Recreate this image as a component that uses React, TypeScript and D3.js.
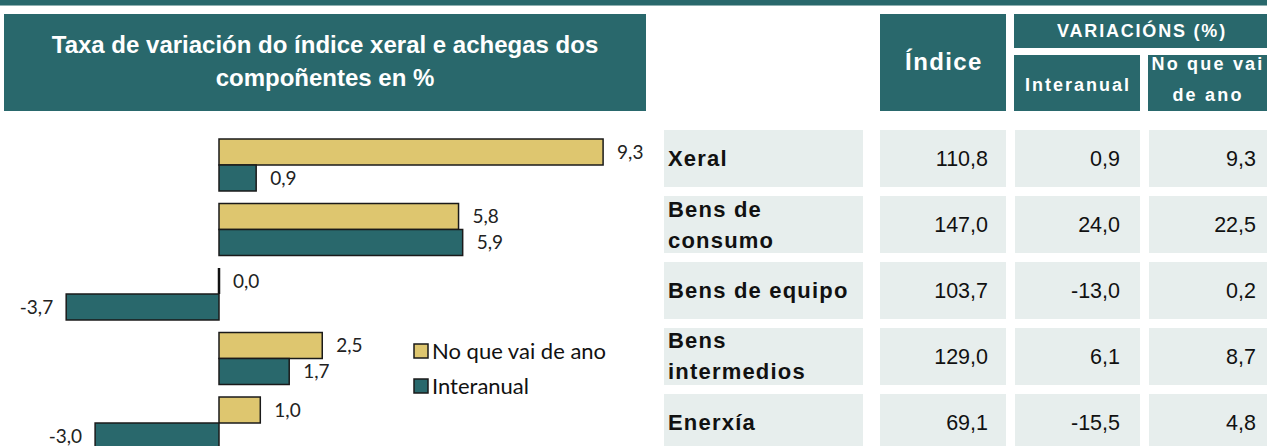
import React from "react";
import * as d3 from "d3";

const categories = ["Xeral", "Bens de consumo", "Bens de equipo", "Bens intermedios", "Enerxía"];
const categoryLines = [["Xeral"], ["Bens de", "consumo"], ["Bens de equipo"], ["Bens", "intermedios"], ["Enerxía"]];
const seriesNames = ["No que vai de ano", "Interanual"];
const chartNoQueVaiDeAno = [9.3, 5.8, 0.0, 2.5, 1.0];
const chartInteranual = [0.9, 5.9, -3.7, 1.7, -3.0];
const tableIndice = [110.8, 147.0, 103.7, 129.0, 69.1];
const tableInteranual = [0.9, 24.0, -13.0, 6.1, -15.5];
const tableNoQueVaiDeAno = [9.3, 22.5, 0.2, 8.7, 4.8];
const titleLines = ["Taxa de variación do índice xeral e achegas dos", "compoñentes en %"];

const TEAL = "#29686C";
const YELLOW = "#DEC66F";
const LIGHT = "#E7EEED";
const W = 1267;
const H = 446;

const locale = d3.formatLocale({ decimal: ",", thousands: ".", grouping: [3], currency: ["", "€"], minus: "-" });
const fmt = locale.format(".1f");

export default function App() {
  const x = d3.scaleLinear().domain([-5, 10]).range([12.5, 632]);
  const y = d3.scaleBand<string>().domain(categories).range([132.75, 455.25]).paddingInner(0.194).paddingOuter(0.097);
  const ySeries = d3.scaleBand<string>().domain(seriesNames).range([0, y.bandwidth()]);
  const color = d3.scaleOrdinal<string, string>().domain(seriesNames).range([YELLOW, TEAL]);
  const seriesValues = [chartNoQueVaiDeAno, chartInteranual];

  const rowY = d3.scaleBand<string>().domain(categories).range([130, 451]).paddingInner(0.136).paddingOuter(0);
  const labelFont = "'Liberation Sans', Arial, sans-serif";
  const dataFont = "Lato, 'Open Sans', sans-serif";

  const cols = [
    { x0: 880, x1: 1006, values: tableIndice, right: 988 },
    { x0: 1015, x1: 1140, values: tableInteranual, right: 1120 },
    { x0: 1149, x1: 1267, values: tableNoQueVaiDeAno, right: 1256 },
  ];

  const bars: React.ReactNode[] = [];
  seriesNames.forEach((s, si) => {
    categories.forEach((c, ci) => {
      const v = seriesValues[si][ci];
      const by = (y(c) as number) + (ySeries(s) as number);
      const bh = ySeries.bandwidth();
      const xa = x(Math.min(0, v));
      const xb = x(Math.max(0, v));
      const key = `${s}-${c}`;
      if (xb - xa < 0.5) {
        bars.push(<line key={key} x1={x(0)} x2={x(0)} y1={by} y2={by + bh} stroke="#111" strokeWidth={2.5} />);
      } else {
        bars.push(
          <rect key={key} x={xa} y={by} width={xb - xa} height={bh} fill={color(s)} stroke="#1a1a1a" strokeWidth={1.5} />
        );
      }
      const tx = v >= 0 ? xb + 14 : xa - 13;
      bars.push(
        <text key={key + "-l"} x={tx} y={by + bh / 2} dy="0.35em" textAnchor={v >= 0 ? "start" : "end"} fontFamily={dataFont} fontSize={19} fill="#222">
          {fmt(v)}
        </text>
      );
    });
  });

  return (
    <svg width={W} height={H} style={{ position: "absolute", left: 0, top: 0, overflow: "hidden", background: "#fff" }}>
      <rect x={0} y={0} width={W} height={5} fill={TEAL} />
      <rect x={0} y={5} width={W} height={1} fill="#8fb0b1" />
      {/* Left header */}
      <rect x={4} y={14} width={642} height={97} fill={TEAL} />
      {titleLines.map((t, i) => (
        <text key={t} x={325} y={53 + i * 33} textAnchor="middle" fontFamily={labelFont} fontWeight="bold" fontSize={24} fill="#fff">
          {t}
        </text>
      ))}
      {/* Right header */}
      <rect x={880} y={14} width={126} height={97} fill={TEAL} />
      <text x={944} y={70} textAnchor="middle" fontFamily={labelFont} fontWeight="bold" fontSize={24} letterSpacing={1.4} fill="#fff">
        Índice
      </text>
      <rect x={1014} y={14} width={253} height={34} fill={TEAL} />
      <text x={1142} y={37} textAnchor="middle" fontFamily={labelFont} fontWeight="bold" fontSize={18} letterSpacing={1.8} fill="#fff">
        VARIACIÓNS (%)
      </text>
      <rect x={1014} y={55} width={126} height={56} fill={TEAL} />
      <text x={1078} y={91} textAnchor="middle" fontFamily={labelFont} fontWeight="bold" fontSize={18} letterSpacing={2} fill="#fff">
        Interanual
      </text>
      <rect x={1148} y={55} width={119} height={56} fill={TEAL} />
      <text x={1208} y={70} textAnchor="middle" fontFamily={labelFont} fontWeight="bold" fontSize={18} letterSpacing={2.2} fill="#fff">
        No que vai
      </text>
      <text x={1208} y={101} textAnchor="middle" fontFamily={labelFont} fontWeight="bold" fontSize={18} letterSpacing={2.2} fill="#fff">
        de ano
      </text>

      {/* Bars */}
      {bars}

      {/* Legend */}
      {seriesNames.map((s, i) => (
        <g key={s} transform={`translate(414, ${344 + i * 35})`}>
          <rect x={0} y={0} width={14} height={14} fill={color(s)} stroke="#1a1a1a" strokeWidth={1.5} />
          <text x={18} y={7} dy="0.35em" fontFamily={dataFont} fontSize={22} fill="#111">
            {s}
          </text>
        </g>
      ))}

      {/* Table */}
      {categories.map((c, i) => {
        const ry = rowY(c) as number;
        const rh = rowY.bandwidth();
        const cy = ry + rh / 2;
        const lines = categoryLines[i];
        return (
          <g key={c}>
            <rect x={664} y={ry} width={199} height={rh} fill={LIGHT} />
            {cols.map((col, ci) => (
              <rect key={ci} x={col.x0} y={ry} width={col.x1 - col.x0} height={rh} fill={LIGHT} />
            ))}
            {lines.map((ln, li) => (
              <text
                key={ln}
                x={668}
                y={cy + 7.5 + (li - (lines.length - 1) / 2) * 31}
                fontFamily={labelFont}
                fontWeight="bold"
                fontSize={22}
                letterSpacing={1.2}
                fill="#111"
              >
                {ln}
              </text>
            ))}
            {cols.map((col, ci) => (
              <text key={"v" + ci} x={col.right} y={cy + 7.5} textAnchor="end" fontFamily={labelFont} fontSize={21.5} fill="#111">
                {fmt(col.values[i])}
              </text>
            ))}
          </g>
        );
      })}
    </svg>
  );
}
